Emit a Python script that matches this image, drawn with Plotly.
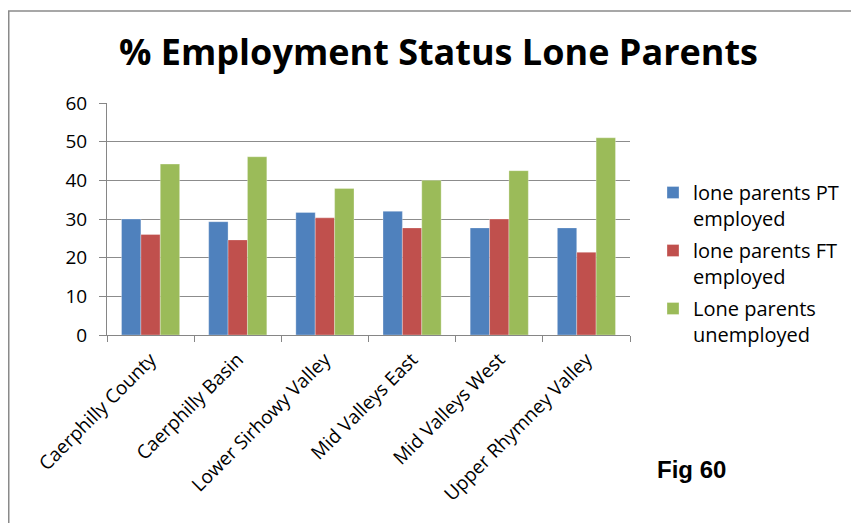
import plotly.graph_objects as go

categories = ["Caerphilly County", "Caerphilly Basin", "Lower Sirhowy Valley",
              "Mid Valleys East", "Mid Valleys West", "Upper Rhymney Valley"]
pt_employed = [30.0, 29.3, 31.7, 32.0, 27.7, 27.7]
ft_employed = [26.0, 24.6, 30.3, 27.7, 30.0, 21.4]
unemployed = [44.2, 46.1, 37.9, 40.0, 42.5, 51.0]
series_names = ["lone parents PT<br>employed", "lone parents FT<br>employed",
                "Lone parents<br>unemployed"]
colors = ["#4F81BD", "#C0504D", "#9BBB59"]
y_ticks = [0, 10, 20, 30, 40, 50, 60]

# page has an 8px body margin, so the figure is sized to fit the 859x523 window
W, H = 851, 515
L, R, T, B = 99, 229, 95, 188
PW, PH = W - L - R, H - T - B


def px(x):
    return (x - L) / PW


def py(y):
    return 1 - (y - T) / PH


fig = go.Figure()
for name, vals, col in zip(series_names, [pt_employed, ft_employed, unemployed], colors):
    fig.add_trace(go.Bar(x=categories, y=vals, name=name, marker_color=col,
                         marker_line=dict(color="rgba(255,255,255,0.6)", width=0.5),
                         legendgroup=name))

fig.update_layout(
    width=W, height=H,
    margin=dict(l=L, r=R, t=T, b=B, autoexpand=False),
    paper_bgcolor="white", plot_bgcolor="white",
    barmode="group", bargap=0.333, bargroupgap=0,
    font=dict(family="Open Sans", color="#000000"),
    title=dict(text="<b>% Employment Status Lone Parents</b>",
               font=dict(family="Open Sans", size=36, color="#000000"),
               x=430.5 / W, xref="container", xanchor="center",
               y=1 - 44 / H, yref="container", yanchor="middle"),
    showlegend=True,
    legend=dict(x=px(645), xanchor="left",
                y=py(165), yanchor="top", valign="top",
                font=dict(size=20, color="#000000", family="Open Sans"),
                tracegroupgap=3, itemwidth=30, bgcolor="rgba(0,0,0,0)"),
    xaxis=dict(type="category", showline=True, linecolor="#868686", linewidth=1,
               ticks="outside", ticklen=6, tickcolor="#868686", tickson="boundaries",
               tickangle=-45, tickfont=dict(size=19, color="#000000"),
               ticklabelstandoff=5, showgrid=False, automargin=False),
    yaxis=dict(range=[0, 60], tickvals=y_ticks, showline=True, linecolor="#868686",
               linewidth=1, ticks="outside", ticklen=7, tickcolor="#868686",
               showgrid=True, gridcolor="#8c8c8c", gridwidth=1,
               tickfont=dict(size=19, color="#000000"), ticklabelstandoff=8,
               zeroline=False, automargin=False),
)

# outer chart border (extends past right/bottom edges)
fig.add_shape(type="rect", xref="paper", yref="paper",
              x0=px(0.75), x1=px(W + 20),
              y0=py(H + 20), y1=py(3),
              line=dict(color="#8a8a8a", width=1.5), fillcolor="rgba(0,0,0,0)",
              layer="below")

fig.add_annotation(text="<b>Fig 60</b>", xref="paper", yref="paper",
                   x=px(683), y=py(461),
                   xanchor="center", yanchor="middle", showarrow=False,
                   font=dict(family="Liberation Sans Narrow, Liberation Sans", size=24, color="#000000"))

fig.write_html("out.html")
